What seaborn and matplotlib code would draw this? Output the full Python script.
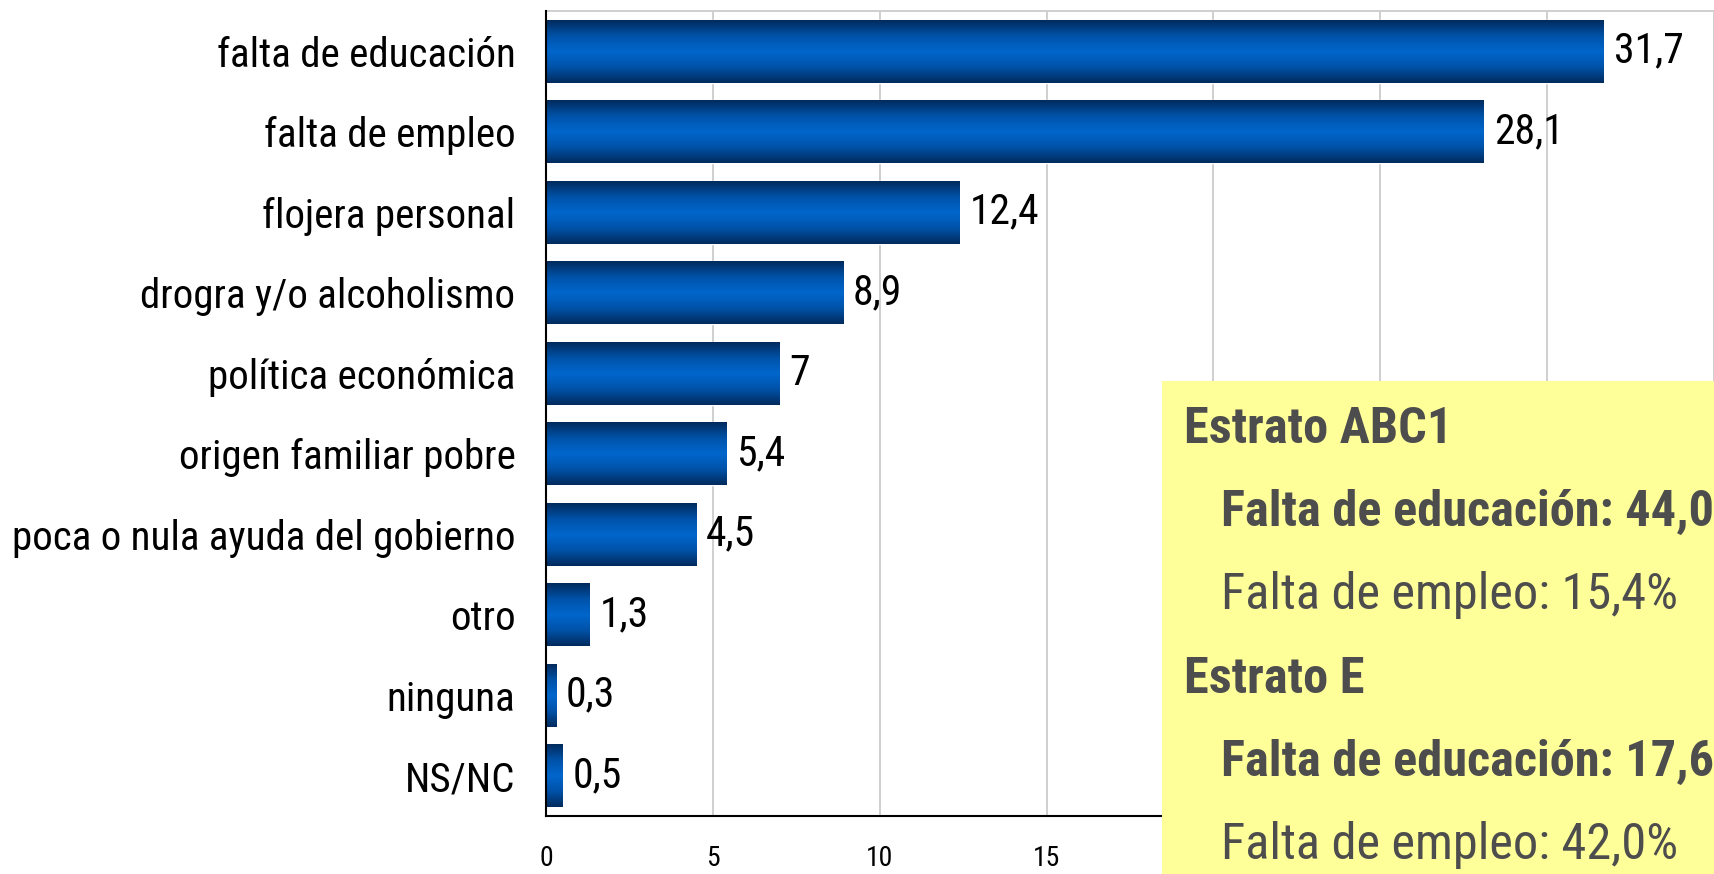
import numpy as np
import pandas as pd
import matplotlib
matplotlib.use("Agg")
import matplotlib.pyplot as plt
import seaborn as sns
from matplotlib.colors import LinearSegmentedColormap

categories = ["falta de educación", "falta de empleo", "flojera personal",
              "drogra y/o alcoholismo", "política económica", "origen familiar pobre",
              "poca o nula ayuda del gobierno", "otro", "ninguna", "NS/NC"]
values = [31.7, 28.1, 12.4, 8.9, 7, 5.4, 4.5, 1.3, 0.3, 0.5]
value_labels = ["31,7", "28,1", "12,4", "8,9", "7", "5,4", "4,5", "1,3", "0,3", "0,5"]
xticks = [0, 5, 10, 15, 20, 25, 30, 35]
xtick_labels = ["0", "5", "10", "15", "", "", "", ""]  # 20-35 hidden behind the note box

box_lines = [("Estrato ABC1", "bold", 0),
             ("Falta de educación: 44,0%", "bold", 1),
             ("Falta de empleo: 15,4%", "normal", 1),
             ("Estrato E", "bold", 0),
             ("Falta de educación: 17,6%", "bold", 1),
             ("Falta de empleo: 42,0%", "normal", 1)]

sns.set_style("white")
plt.rcParams['font.family'] = ['Roboto Condensed', 'DejaVu Sans']

W, H = 1714, 874
fig = plt.figure(figsize=(W / 100, H / 100), dpi=100)
ax = fig.add_axes([546 / W, 1 - 816 / H, 1 - 546 / W, (816 - 11) / H])

df = pd.DataFrame({"cat": categories, "val": values})
sns.barplot(data=df, y="cat", x="val", orient="h", color="#0066cc", width=0.78,
            ax=ax, zorder=2)

ax.set_xlim(0, 35)
ax.set_ylim(len(categories) - 0.5, -0.5)
ax.set_xticks(xticks)
ax.set_xticklabels(xtick_labels, fontsize=20, color="black")
ax.set_xlabel("")
ax.set_ylabel("")
ax.grid(axis="x", color="#cccccc", linewidth=1.3, zorder=0)
ax.set_axisbelow(True)

ax.set_yticks(range(len(categories)))
ax.set_yticklabels(categories, fontsize=29.5, color="black")
ax.tick_params(axis="y", length=0, pad=22)
ax.set_yticks(np.arange(-0.5, len(categories)), minor=True)
ax.tick_params(axis="y", which="minor", length=9, width=1.5, color="black", direction="out")
ax.tick_params(axis="x", length=9, width=1.5, color="black", direction="out", pad=12)

ax.spines["right"].set_visible(False)
ax.spines["top"].set_color("#cccccc")
ax.spines["top"].set_linewidth(1.3)
for s in ["left", "bottom"]:
    ax.spines[s].set_color("black")
    ax.spines[s].set_linewidth(1.5)
    ax.spines[s].set_zorder(5)

cmap = LinearSegmentedColormap.from_list("bar", ["#002a5c", "#0052a8", "#0066cc", "#0052a8", "#002a5c"])
grad = np.linspace(0, 1, 256).reshape(-1, 1)
for p in ax.patches:
    x0, y0 = p.get_x(), p.get_y()
    w, h = p.get_width(), p.get_height()
    im = ax.imshow(grad, cmap=cmap, aspect="auto", extent=[x0, x0 + w, y0 + h, y0],
                   zorder=3, interpolation="bicubic")
    im.set_clip_path(p)
ax.set_xlim(0, 35)
ax.set_ylim(len(categories) - 0.5, -0.5)

for p, lab in zip(ax.patches, value_labels):
    ax.text(p.get_x() + p.get_width() + 0.3, p.get_y() + p.get_height() / 2, lab,
            va="center", ha="left", fontsize=30, color="black", zorder=4)

bx0, by0 = 1162, 381
fig.patches.append(plt.Rectangle((bx0 / W, 0), 1 - bx0 / W, 1 - by0 / H,
                                 transform=fig.transFigure, facecolor="#ffff99",
                                 edgecolor="none", zorder=10))
base = 443
for i, (txt, wt, ind) in enumerate(box_lines):
    x = 1184 if ind == 0 else 1221
    y = base + i * 83.2
    fig.text(x / W, 1 - y / H, txt, fontsize=36.3, fontweight=wt, color="#4d4d4d",
             va="baseline", ha="left", zorder=11)

fig.savefig("out.png", dpi=100)
